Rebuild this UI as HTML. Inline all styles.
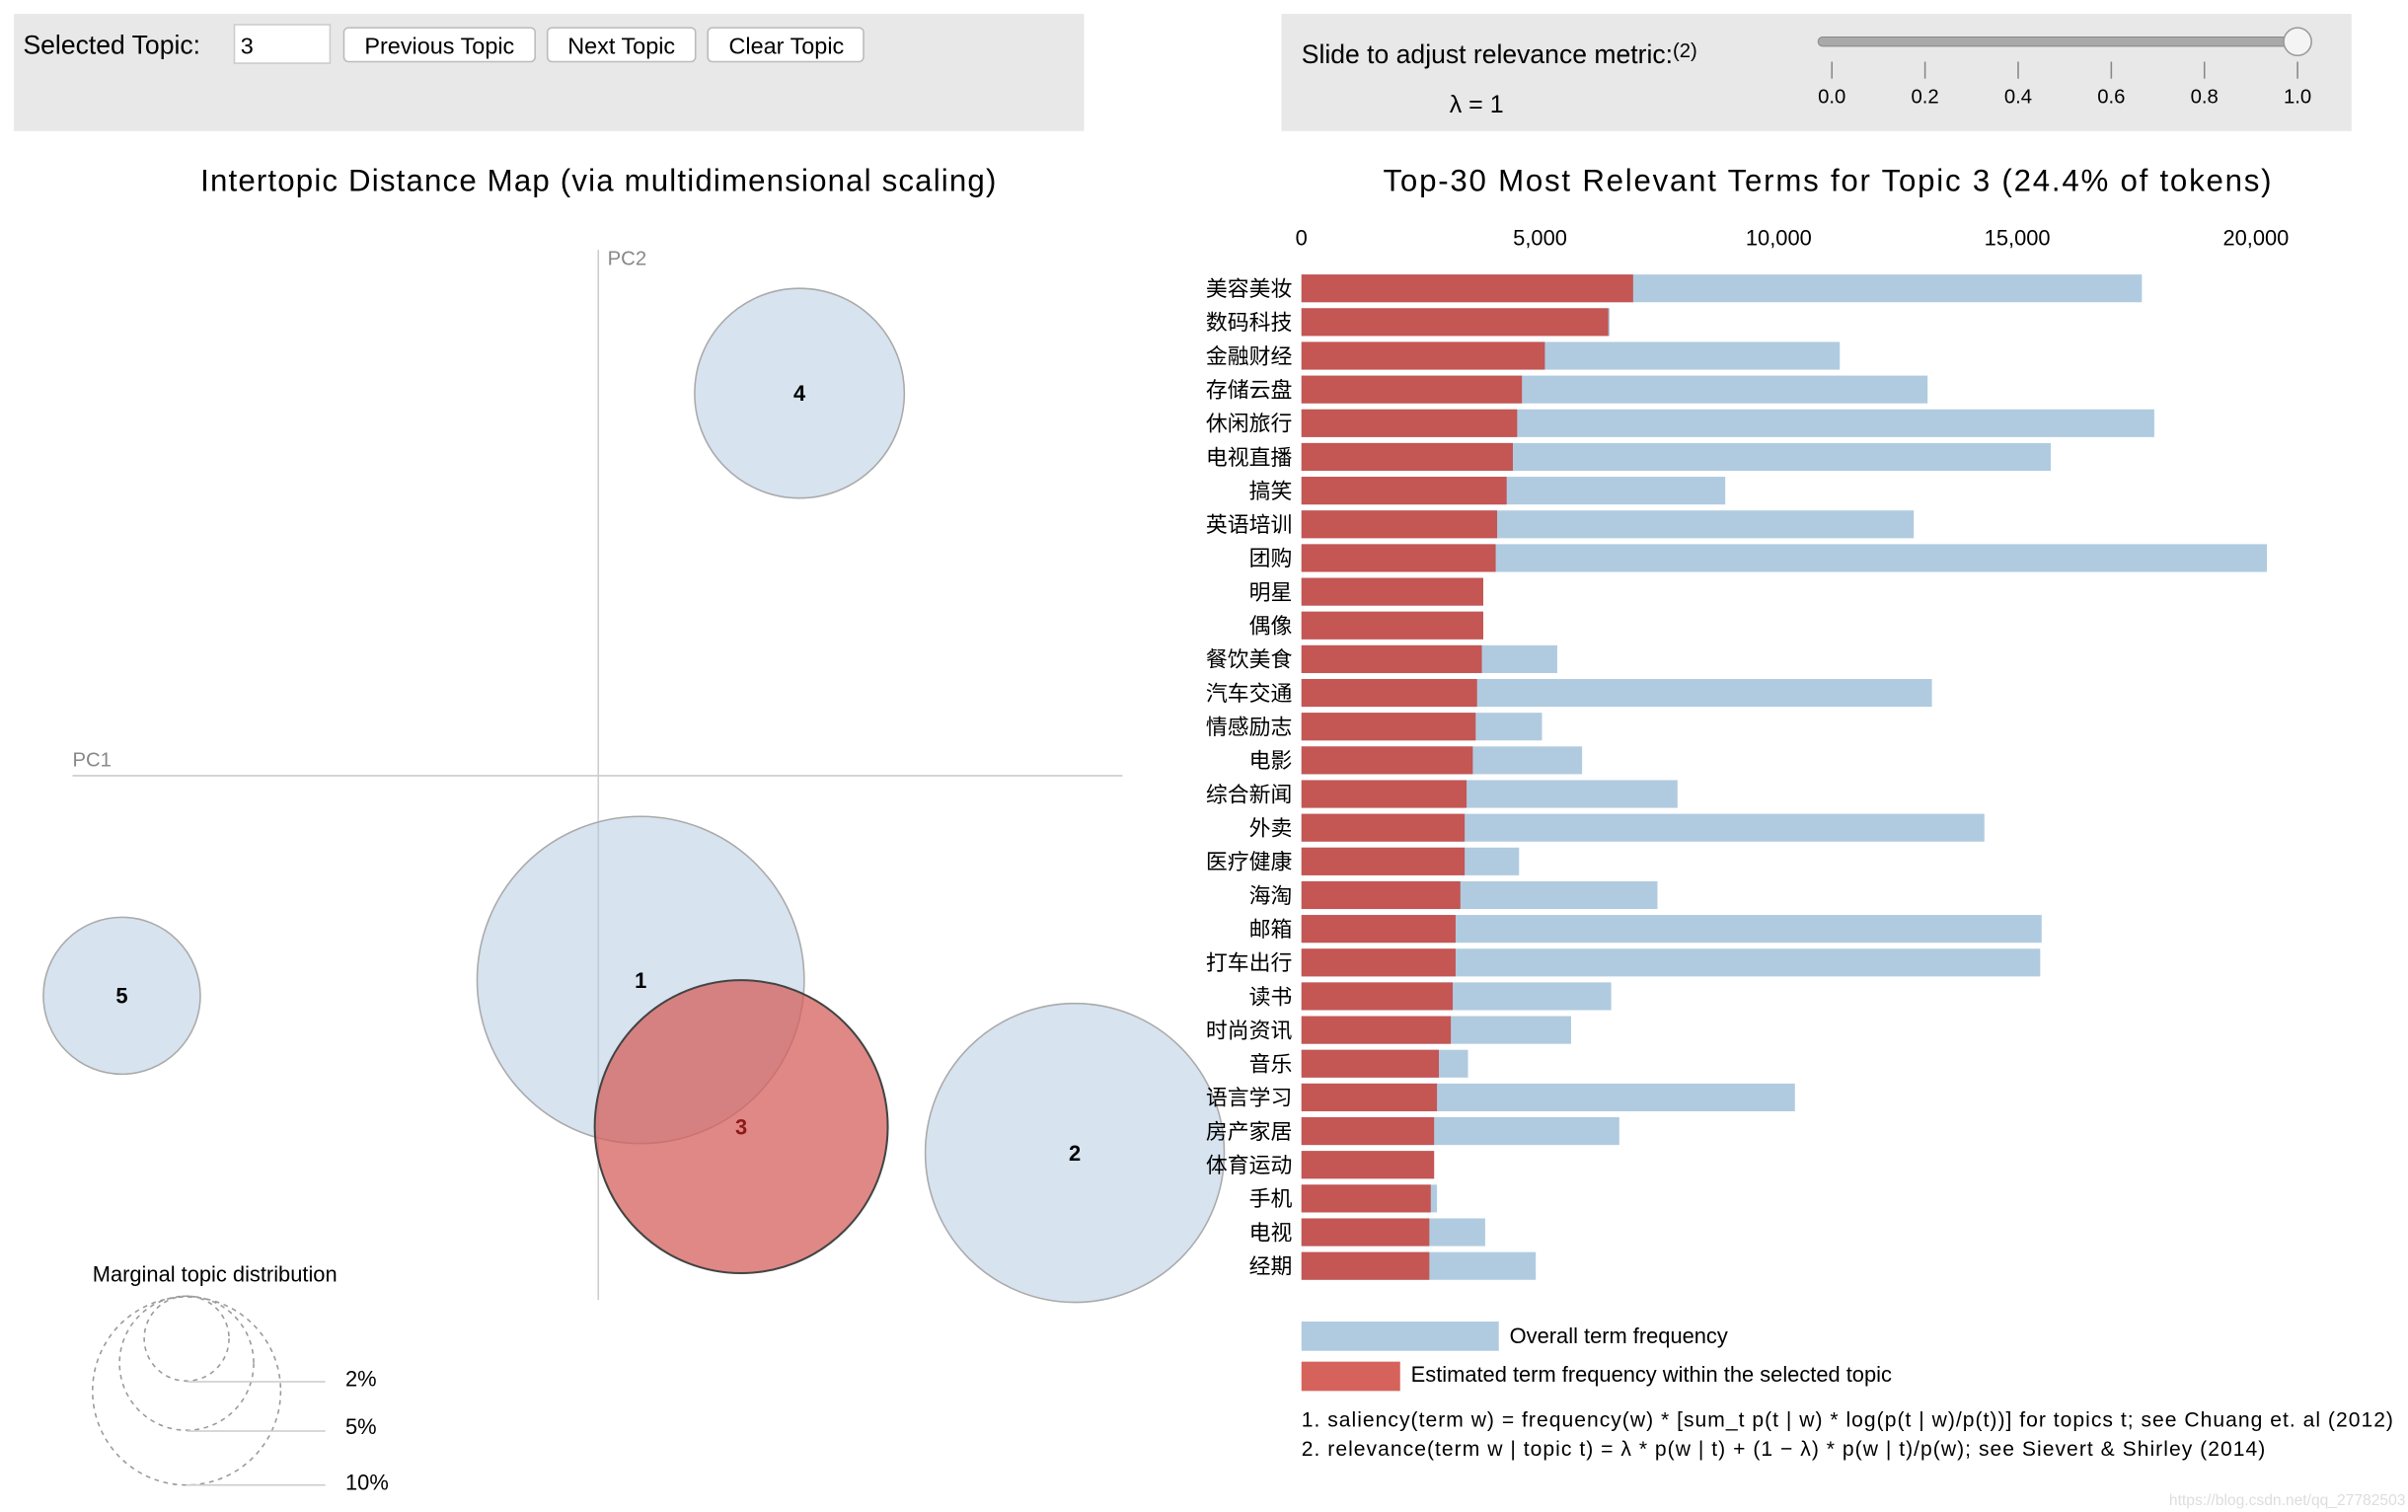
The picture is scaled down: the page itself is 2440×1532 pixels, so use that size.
<!DOCTYPE html>
<html><head><meta charset="utf-8">
<style>
html,body{margin:0;padding:0;background:#fff;}
svg{display:block;font-family:"Liberation Sans","Noto Sans CJK SC",sans-serif;}
</style></head>
<body>
<svg id="root" width="2440" height="1532" viewBox="0 0 1561.6 980.5" xmlns="http://www.w3.org/2000/svg">
  <rect x="9" y="9" width="694" height="76" fill="#e8e8e8"/>
  <text x="15" y="35" font-size="17" fill="#000">Selected Topic:</text>
  <rect x="152" y="16" width="62" height="25" fill="#fff" stroke="#ccc"/>
  <text x="156" y="35" font-size="15">3</text>
  <g>
    <rect x="223" y="18" width="124" height="22" rx="3" fill="#fff" stroke="#bbb"/>
    <text x="285" y="35" font-size="15" text-anchor="middle">Previous Topic</text>
  </g>
  <g>
    <rect x="355" y="18" width="96" height="22" rx="3" fill="#fff" stroke="#bbb"/>
    <text x="403" y="35" font-size="15" text-anchor="middle">Next Topic</text>
  </g>
  <g>
    <rect x="459" y="18" width="101" height="22" rx="3" fill="#fff" stroke="#bbb"/>
    <text x="510" y="35" font-size="15" text-anchor="middle">Clear Topic</text>
  </g>
  <rect x="831" y="9" width="694" height="76" fill="#e8e8e8"/>
  <text x="844" y="41" font-size="17">Slide to adjust relevance metric:<tspan font-size="13" dy="-4">(2)</tspan></text>
  <text x="940" y="73" font-size="16">λ = 1</text>
  <rect x="1179" y="24" width="312" height="6" rx="3" fill="#a9a9a9" stroke="#888" stroke-width="0.6"/>
  <circle cx="1490" cy="27" r="9" fill="#f4f4f4" stroke="#999"/>
  <g id="sliderTicks" font-size="13" text-anchor="middle"></g>

  <text x="388" y="124" font-size="20" text-anchor="middle" textLength="516">Intertopic Distance Map (via multidimensional scaling)</text>
  <text x="1185" y="124" font-size="20" text-anchor="middle" textLength="576">Top-30 Most Relevant Terms for Topic 3 (24.4% of tokens)</text>

  <line x1="388" y1="162" x2="388" y2="843" stroke="#ccc"/>
  <line x1="47" y1="503" x2="728" y2="503" stroke="#ccc"/>
  <text x="394" y="172" font-size="13" fill="#888">PC2</text>
  <text x="47" y="497" font-size="13" fill="#888">PC1</text>
  <g id="topics"></g>

  <text x="60" y="831" font-size="14">Marginal topic distribution</text>
  <g fill="none" stroke="#999" stroke-dasharray="3,3">
    <circle cx="121" cy="902" r="61"/>
    <circle cx="121" cy="884" r="43.5"/>
    <circle cx="121" cy="868" r="27.5"/>
  </g>
  <g stroke="#ccc">
    <line x1="121" y1="896" x2="211" y2="896"/>
    <line x1="121" y1="928" x2="211" y2="928"/>
    <line x1="121" y1="963" x2="211" y2="963"/>
  </g>
  <g font-size="14">
    <text x="224" y="899">2%</text>
    <text x="224" y="930">5%</text>
    <text x="224" y="966">10%</text>
  </g>

  <g id="xticks" font-size="14" text-anchor="middle"></g>
  <g id="bars"></g>

  <rect x="844" y="857" width="128" height="19" fill="#b0cbe0"/>
  <text x="979" y="871" font-size="14">Overall term frequency</text>
  <rect x="844" y="883" width="64" height="19" fill="#d5635b"/>
  <text x="915" y="896" font-size="14">Estimated term frequency within the selected topic</text>
  <text x="844" y="925" font-size="13.5" textLength="708">1. saliency(term w) = frequency(w) * [sum_t p(t | w) * log(p(t | w)/p(t))] for topics t; see Chuang et. al (2012)</text>
  <text x="844" y="944" font-size="13.5" textLength="625">2. relevance(term w | topic t) = λ * p(w | t) + (1 − λ) * p(w | t)/p(w); see Sievert &amp; Shirley (2014)</text>
  <text x="1560" y="976" font-size="10" fill="#ddd" text-anchor="end">https://blog.csdn.net/qq_27782503</text>
</svg>
<script>
const terms = ["美容美妆","数码科技","金融财经","存储云盘","休闲旅行","电视直播","搞笑","英语培训","团购","明星","偶像","餐饮美食","汽车交通","情感励志","电影","综合新闻","外卖","医疗健康","海淘","邮箱","打车出行","读书","时尚资讯","音乐","语言学习","房产家居","体育运动","手机","电视","经期"];
const topicFreq = [6950,6430,5100,4620,4520,4430,4300,4100,4070,3810,3810,3780,3680,3650,3590,3460,3420,3420,3330,3230,3230,3170,3130,2880,2840,2780,2780,2710,2680,2680];
const totalFreq = [17610,6460,11280,13120,17870,15700,8880,12830,20230,3810,3810,5360,13210,5040,5880,7880,14310,4560,7460,15510,15480,6490,5650,3490,10340,6660,2780,2840,3850,4910];
const xTicks = [0,5000,10000,15000,20000];
const sliderTickLabels = ["0.0","0.2","0.4","0.6","0.8","1.0"];
const topicIds = ["1","2","3","4","5"];
const topicPC1 = [0.08, 0.9, 0.27, 0.38, -0.9];
const topicPC2 = [-0.39, -0.72, -0.67, 0.73, -0.42];
const topicSize = [0.304, 0.254, 0.244, 0.125, 0.070];

const NS = "http://www.w3.org/2000/svg";
function mk(tag, attrs, parent){const e=document.createElementNS(NS,tag);for(const k in attrs)e.setAttribute(k,attrs[k]);parent.appendChild(e);return e;}

const x0 = 844, xScale = 619/20000;
const xPos = v => x0 + v*xScale;
const rowY = i => 178 + i*21.86;
const barH = 18;
const mdsX = v => 388 + v*(697-388)/0.9;
const mdsY = v => 503 - v*(503-255)/0.73;
const rScale = s => 95*Math.sqrt(s/0.244);

const st = document.getElementById('sliderTicks');
sliderTickLabels.forEach((t,i)=>{
  const x = 1188 + i*(1490-1188)/5;
  const l = mk('line',{x1:x,y1:40,x2:x,y2:51,stroke:'#888'},st);
  
  
  const tx = mk('text',{x:x,y:67},st);
  tx.textContent = t;
  
  
});

const tg = document.getElementById('topics');
const order = [3,4,0,1,2];
order.forEach(i=>{
  const sel = topicIds[i]==="3";
  const g = mk('g',{},tg);
  
  
  const cx = mdsX(topicPC1[i]), cy = mdsY(topicPC2[i]), r = rScale(topicSize[i]);
  mk('circle',{cx:cx,cy:cy,r:r,fill:sel?'rgba(214,96,92,0.75)':'rgba(176,200,224,0.5)',stroke:sel?'#444':'#aaa','stroke-width':sel?1.3:1},g);
  const t = mk('text',{x:cx,y:cy+5,'font-size':14,'font-weight':'bold','text-anchor':'middle',fill:sel?'#8b1a1a':'#000'},g);
  t.textContent = topicIds[i];
});

const xt = document.getElementById('xticks');
xTicks.forEach(v=>{
  const t = mk('text',{x:xPos(v),y:159},xt);
  t.textContent = v.toLocaleString('en-US');
  
  
});

const bg = document.getElementById('bars');
terms.forEach((term,i)=>{
  const y = rowY(i);
  const g = mk('g',{},bg);
  
  
  const b1 = mk('rect',{x:x0,y:y,width:xPos(totalFreq[i])-x0,height:barH,fill:'#b0cbe0'},g);
  
  
  const b2 = mk('rect',{x:x0,y:y,width:xPos(topicFreq[i])-x0,height:barH,fill:'#c45654'},g);
  
  
  const t = mk('text',{x:838,y:y+14,'font-size':14,'text-anchor':'end'},g);
  t.textContent = term;
  
  
});
</script>
</body></html>
